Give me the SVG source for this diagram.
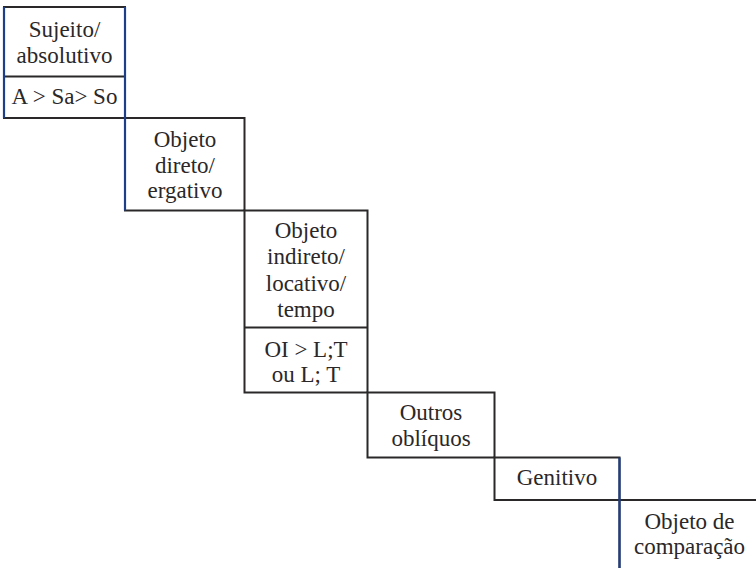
<svg xmlns="http://www.w3.org/2000/svg" width="756" height="568" viewBox="0 0 756 568">
<style>
.box{fill:#ffffff;stroke:#2a2829;stroke-width:2}
.div{stroke:#2a2829;stroke-width:2}
.blue{stroke:#1d3f8a;stroke-width:2.2}
text{font-family:"Liberation Serif","Times New Roman",serif;font-size:23px;fill:#2a2829;text-anchor:middle}
</style>
<rect width="756" height="568" fill="#ffffff"/>
<g id="sujeito">
<rect class="box" x="4" y="7" width="121" height="111"/>
<line class="div" x1="4" y1="76.5" x2="125" y2="76.5"/>
<text x="64.5" y="37">Sujeito/</text>
<text x="64.5" y="63">absolutivo</text>
<text x="64.5" y="104">A &gt; Sa&gt; So</text>
</g>
<g id="objeto-direto">
<rect class="box" x="125" y="118" width="119.5" height="92.5"/>
<text x="185" y="147">Objeto</text>
<text x="185" y="173">direto/</text>
<text x="185" y="198">ergativo</text>
</g>
<g id="objeto-indireto">
<rect class="box" x="244.5" y="210.5" width="123" height="182"/>
<line class="div" x1="244.5" y1="327.5" x2="367.5" y2="327.5"/>
<text x="306" y="237.5">Objeto</text>
<text x="306" y="264">indireto/</text>
<text x="306" y="290.5">locativo/</text>
<text x="306" y="317">tempo</text>
<text x="306" y="357">OI &gt; L;T</text>
<text x="306" y="382">ou L; T</text>
</g>
<g id="outros-obliquos">
<rect class="box" x="367.5" y="392.5" width="127" height="65"/>
<text x="431" y="420">Outros</text>
<text x="431" y="446">oblíquos</text>
</g>
<g id="genitivo">
<rect class="box" x="494.5" y="457.5" width="125" height="42.5"/>
<text x="557" y="485">Genitivo</text>
</g>
<g id="objeto-comparacao">
<rect class="box" x="619.5" y="500" width="200" height="100"/>
<text x="689.5" y="528.5">Objeto de</text>
<text x="689.5" y="553.5">comparação</text>
</g>
<g id="connectors">
<line class="blue" x1="4" y1="7" x2="4" y2="118"/>
<line class="blue" x1="125" y1="7" x2="125" y2="210.5"/>
<line class="blue" x1="619.5" y1="457.5" x2="619.5" y2="568"/>
</g>
</svg>
